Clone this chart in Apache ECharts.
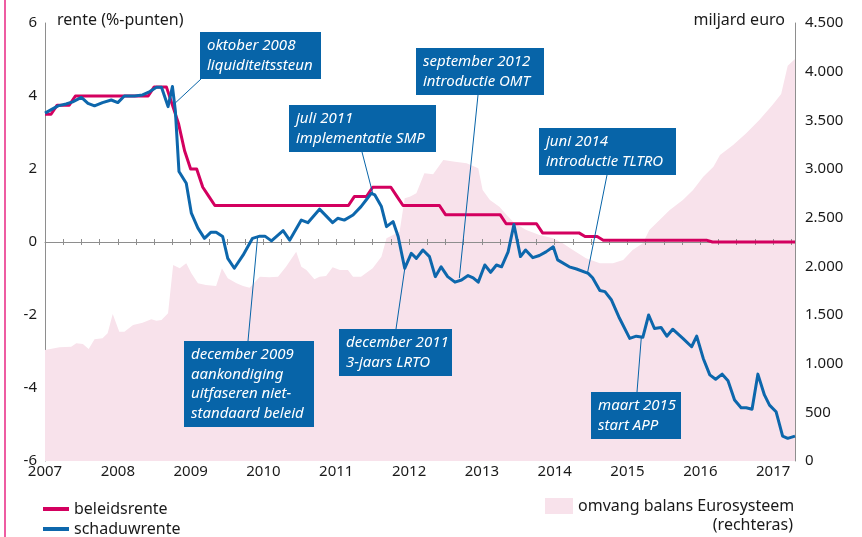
<!DOCTYPE html>
<html>
<head>
<meta charset="utf-8">
<script src="https://cdn.jsdelivr.net/npm/echarts@6/dist/echarts.min.js"></script>
<style>
  html, body { margin: 0; padding: 0; background: #fff; }
  #chart { width: 862px; height: 537px; }
</style>
</head>
<body>
<div id="chart"></div>
<script>
// beleidsrente: knikpunten (maandelijks, als decimaal jaar)
const beleidsDatums = [
  2007.000, 2007.083, 2007.167, 2007.333, 2007.417, 2008.417, 2008.500, 2008.667,
  2008.750, 2008.833, 2008.917, 2009.000, 2009.083, 2009.167, 2009.250, 2009.333,
  2011.167, 2011.250, 2011.417, 2011.500, 2011.750, 2011.833, 2011.917, 2012.417,
  2012.500, 2013.250, 2013.333, 2013.750, 2013.833, 2014.333, 2014.417, 2014.583,
  2014.667, 2016.083, 2016.167, 2017.300
]
const beleidsWaarden = [
  3.5, 3.5, 3.75, 3.75, 4.0, 4.0, 4.25, 4.25,
  3.75, 3.25, 2.5, 2.0, 2.0, 1.5, 1.25, 1.0,
  1.0, 1.25, 1.25, 1.5, 1.5, 1.25, 1.0, 1.0,
  0.75, 0.75, 0.5, 0.5, 0.25, 0.25, 0.15, 0.15,
  0.05, 0.05, 0.0, 0.0
]

// schaduwrente
const schaduwDatums = [
  2007.00, 2007.08, 2007.18, 2007.29, 2007.38, 2007.50, 2007.59, 2007.68, 2007.79, 2007.91,
  2008.00, 2008.09, 2008.23, 2008.34, 2008.44, 2008.53, 2008.60, 2008.69, 2008.75, 2008.79,
  2008.84, 2008.94, 2009.01, 2009.10, 2009.19, 2009.28, 2009.35, 2009.44, 2009.51, 2009.60,
  2009.72, 2009.85, 2009.95, 2010.02, 2010.11, 2010.27, 2010.36, 2010.52, 2010.61, 2010.77,
  2010.95, 2011.02, 2011.11, 2011.23, 2011.34, 2011.41, 2011.48, 2011.53, 2011.62, 2011.69,
  2011.78, 2011.85, 2011.94, 2012.03, 2012.10, 2012.19, 2012.28, 2012.36, 2012.44, 2012.53,
  2012.63, 2012.72, 2012.81, 2012.88, 2012.95, 2013.04, 2013.12, 2013.20, 2013.27, 2013.36,
  2013.44, 2013.53, 2013.60, 2013.70, 2013.79, 2013.88, 2013.98, 2014.04, 2014.20, 2014.30,
  2014.46, 2014.52, 2014.62, 2014.69, 2014.78, 2014.89, 2015.03, 2015.12, 2015.21, 2015.29,
  2015.37, 2015.46, 2015.54, 2015.62, 2015.76, 2015.88, 2015.95, 2016.04, 2016.13, 2016.21,
  2016.30, 2016.38, 2016.47, 2016.56, 2016.63, 2016.71, 2016.79, 2016.88, 2016.95, 2017.04,
  2017.13, 2017.20, 2017.30
]
const schaduwWaarden = [
  3.53, 3.62, 3.73, 3.78, 3.84, 3.96, 3.80, 3.73, 3.82, 3.89,
  3.82, 4.00, 4.00, 4.03, 4.12, 4.24, 4.24, 3.71, 4.26, 3.60,
  1.93, 1.61, 0.79, 0.38, 0.10, 0.27, 0.27, 0.15, -0.45, -0.72,
  -0.36, 0.10, 0.16, 0.16, 0.03, 0.31, 0.05, 0.60, 0.53, 0.90,
  0.53, 0.65, 0.60, 0.74, 0.97, 1.15, 1.33, 1.29, 0.97, 0.42,
  0.56, 0.15, -0.72, -0.31, -0.45, -0.22, -0.40, -0.95, -0.68, -0.95,
  -1.10, -1.04, -0.92, -0.98, -1.10, -0.63, -0.83, -0.63, -0.68, -0.27,
  0.48, -0.40, -0.22, -0.43, -0.37, -0.27, -0.13, -0.49, -0.68, -0.74,
  -0.86, -0.98, -1.33, -1.36, -1.59, -2.09, -2.64, -2.58, -2.61, -2.00,
  -2.37, -2.34, -2.58, -2.39, -2.64, -2.87, -2.58, -3.19, -3.64, -3.76,
  -3.62, -3.80, -4.33, -4.54, -4.54, -4.58, -3.62, -4.19, -4.47, -4.65,
  -5.32, -5.38, -5.32
]

// omvang balans Eurosysteem (miljard euro, rechteras)
const balansDatums = [
  2007.00, 2007.20, 2007.36, 2007.43, 2007.52, 2007.60, 2007.68, 2007.79, 2007.86, 2007.93,
  2008.02, 2008.09, 2008.21, 2008.34, 2008.46, 2008.53, 2008.60, 2008.69, 2008.76, 2008.85,
  2008.94, 2009.01, 2009.10, 2009.21, 2009.35, 2009.43, 2009.51, 2009.63, 2009.72, 2009.81,
  2009.95, 2010.08, 2010.20, 2010.31, 2010.45, 2010.52, 2010.59, 2010.70, 2010.77, 2010.86,
  2010.95, 2011.05, 2011.16, 2011.23, 2011.34, 2011.50, 2011.62, 2011.69, 2011.78, 2011.87,
  2011.94, 2012.01, 2012.10, 2012.21, 2012.33, 2012.47, 2012.63, 2012.79, 2012.95, 2013.01,
  2013.11, 2013.24, 2013.34, 2013.45, 2013.61, 2013.79, 2013.98, 2014.11, 2014.25, 2014.43,
  2014.62, 2014.80, 2014.94, 2015.07, 2015.21, 2015.30, 2015.44, 2015.58, 2015.76, 2015.90,
  2016.04, 2016.18, 2016.27, 2016.45, 2016.63, 2016.81, 2016.99, 2017.11, 2017.20, 2017.30
]
const balansWaarden = [
  1140, 1168, 1175, 1209, 1202, 1151, 1250, 1260, 1312, 1510,
  1329, 1329, 1397, 1421, 1456, 1441, 1449, 1517, 2014, 1980,
  2031, 1928, 1826, 1808, 1798, 1980, 1877, 1826, 1798, 1781,
  1894, 1887, 1894, 1996, 2150, 1996, 1962, 1867, 1894, 1901,
  1990, 1962, 1962, 1894, 1894, 1980, 2099, 2288, 2322, 2356,
  2699, 2716, 2750, 2956, 2946, 3093, 3075, 3058, 3007, 2784,
  2682, 2613, 2527, 2442, 2373, 2322, 2288, 2237, 2168, 2082,
  2031, 2031, 2065, 2168, 2237, 2373, 2476, 2579, 2682, 2784,
  2921, 3024, 3144, 3247, 3367, 3503, 3658, 3770, 4060, 4130
]

// annotaties: tekst, datum en punt op de schaduwrente
const annotatieTeksten = [
  'oktober 2008\nliquiditeitssteun',
  'juli 2011\nimplementatie SMP',
  'september 2012\nintroductie OMT',
  'juni 2014\nintroductie TLTRO',
  'december 2009\naankondiging\nuitfaseren niet-\nstandaard beleid',
  'december 2011\n3-jaars LRTO',
  'maart 2015\nstart APP'
]
const annotatieDatums = [2008.79, 2011.50, 2012.69, 2014.45, 2009.92, 2011.94, 2015.19]
const annotatieWaarden = [3.81, 1.34, -0.99, -0.85, 0.14, -0.74, -2.60]

const zip = (xs, ys) => xs.map((x, i) => [x, ys[i]])

const fontFamily = '"Noto Sans", "DejaVu Sans", sans-serif'
const tekstKleur = '#1a1a1a'
const asKleur = '#8e8e8e'
const blauw = '#0d67ac'
const magenta = '#d3005f'
const roze = '#f8e2eb'
const kaderBlauw = '#0764a8'

const chart = echarts.init(document.getElementById('chart'))

const jaarLabel = v => Math.abs(v - Math.round(v)) < 1e-6 ? String(Math.round(v)) : ''

const legendTekst = { fontSize: 16, color: tekstKleur, fontFamily: fontFamily }

chart.setOption({
  animation: false,
  textStyle: { fontFamily: fontFamily },
  grid: { left: 45, right: 67, top: 23, bottom: 76 },
  legend: [
    {
      data: ['beleidsrente'], left: 38, top: 496,
      icon: 'rect', itemWidth: 26, itemHeight: 4,
      textStyle: legendTekst, selectedMode: false
    },
    {
      data: ['schaduwrente'], left: 38, top: 516,
      icon: 'rect', itemWidth: 26, itemHeight: 4,
      textStyle: legendTekst, selectedMode: false
    },
    {
      data: ['omvang balans Eurosysteem'], left: 540, top: 493,
      icon: 'rect', itemWidth: 28, itemHeight: 16,
      textStyle: legendTekst, selectedMode: false
    }
  ],
  xAxis: [
    {
      type: 'value', min: 2007, max: 2017.3, interval: 1,
      position: 'bottom',
      axisLine: { show: false }, axisTick: { show: false }, splitLine: { show: false },
      axisLabel: { formatter: jaarLabel, fontSize: 15, color: tekstKleur, margin: 3, fontFamily: fontFamily }
    },
    {
      type: 'value', min: 2007, max: 2017.3, interval: 0.25,
      position: 'top', z: 2,
      axisLine: { show: true, onZero: true, onZeroAxisIndex: 0, lineStyle: { color: asKleur, width: 1 } },
      axisTick: { show: true, length: 3, lineStyle: { color: asKleur } },
      axisLabel: { show: false }, splitLine: { show: false }
    },
    {
      type: 'value', min: 2007, max: 2017.3, interval: 0.25,
      position: 'bottom', z: 2,
      axisLine: { show: false, onZero: true, onZeroAxisIndex: 0 },
      axisTick: { show: true, length: 3, lineStyle: { color: asKleur } },
      axisLabel: { show: false }, splitLine: { show: false }
    }
  ],
  yAxis: [
    {
      type: 'value', min: -6, max: 6, interval: 2, position: 'left',
      axisLine: { show: true, lineStyle: { color: asKleur } },
      axisTick: { show: false }, splitLine: { show: false },
      axisLabel: { fontSize: 15, color: tekstKleur, margin: 8, fontFamily: fontFamily }
    },
    {
      type: 'value', min: 0, max: 4500, interval: 500, position: 'right',
      axisLine: { show: true, lineStyle: { color: asKleur } },
      axisTick: { show: false }, splitLine: { show: false },
      axisLabel: {
        fontSize: 15, color: tekstKleur, margin: 10, fontFamily: fontFamily,
        formatter: v => String(v).replace(/\B(?=(\d{3})+(?!\d))/g, '.')
      }
    }
  ],
  series: [
    {
      name: 'omvang balans Eurosysteem', type: 'line',
      xAxisIndex: 0, yAxisIndex: 1, z: 1,
      data: zip(balansDatums, balansWaarden),
      symbol: 'none', silent: true,
      itemStyle: { color: roze },
      lineStyle: { width: 0, color: roze },
      areaStyle: { color: roze, opacity: 1 }
    },
    {
      name: 'beleidsrente', type: 'line',
      xAxisIndex: 0, yAxisIndex: 0, z: 4,
      data: zip(beleidsDatums, beleidsWaarden),
      symbol: 'none', silent: true,
      itemStyle: { color: magenta },
      lineStyle: { width: 3, color: magenta, join: 'round' }
    },
    {
      name: 'schaduwrente', type: 'line',
      xAxisIndex: 0, yAxisIndex: 0, z: 5,
      data: zip(schaduwDatums, schaduwWaarden),
      symbol: 'none', silent: true,
      itemStyle: { color: blauw },
      lineStyle: { width: 3, color: blauw, join: 'round' }
    }
  ]
})

// kaders van de annotaties (x, y, breedte, hoogte) en beginpunt van de verbindingslijn
const kaders = [
  { x: 200, y: 32, w: 121, h: 47, ax: 201, ay: 79 },
  { x: 289, y: 105, w: 147, h: 47, ax: 362, ay: 152 },
  { x: 416, y: 48, w: 128, h: 47, ax: 478, ay: 95 },
  { x: 539, y: 128, w: 137, h: 47, ax: 607, ay: 175 },
  { x: 184, y: 341, w: 130, h: 86, ax: 248, ay: 341 },
  { x: 339, y: 329, w: 113, h: 47, ax: 396, ay: 329 },
  { x: 591, y: 392, w: 90, h: 47, ax: 637, ay: 392 }
]

const graphics = [
  { type: 'rect', left: 4, top: 0, shape: { width: 2, height: 537 }, style: { fill: '#ee5ca2' } },
  {
    type: 'text', x: 57, y: 20,
    style: { text: 'rente (%-punten)', font: '16px ' + fontFamily, fill: tekstKleur, verticalAlign: 'middle' }
  },
  {
    type: 'text', x: 785, y: 20,
    style: { text: 'miljard euro', font: '16px ' + fontFamily, fill: tekstKleur, align: 'right', verticalAlign: 'middle' }
  },
  {
    type: 'text', x: 793, y: 525,
    style: { text: '(rechteras)', font: '16px ' + fontFamily, fill: tekstKleur, align: 'right', verticalAlign: 'middle' }
  }
]

annotatieTeksten.forEach((tekst, i) => {
  const k = kaders[i]
  const p = chart.convertToPixel({ xAxisIndex: 0, yAxisIndex: 0 }, [annotatieDatums[i], annotatieWaarden[i]])
  graphics.push({
    type: 'line', z: 10,
    shape: { x1: k.ax, y1: k.ay, x2: p[0], y2: p[1] },
    style: { stroke: kaderBlauw, lineWidth: 1 }
  })
  graphics.push({
    type: 'rect', z: 11,
    shape: { x: k.x, y: k.y, width: k.w, height: k.h },
    style: { fill: kaderBlauw }
  })
  graphics.push({
    type: 'text', z: 12, x: k.x + 7, y: k.y + 4,
    style: {
      text: tekst, fill: '#ffffff', lineHeight: 19.5,
      font: 'italic 15px ' + fontFamily, verticalAlign: 'top'
    }
  })
})

chart.setOption({ graphic: graphics })
</script>
</body>
</html>
